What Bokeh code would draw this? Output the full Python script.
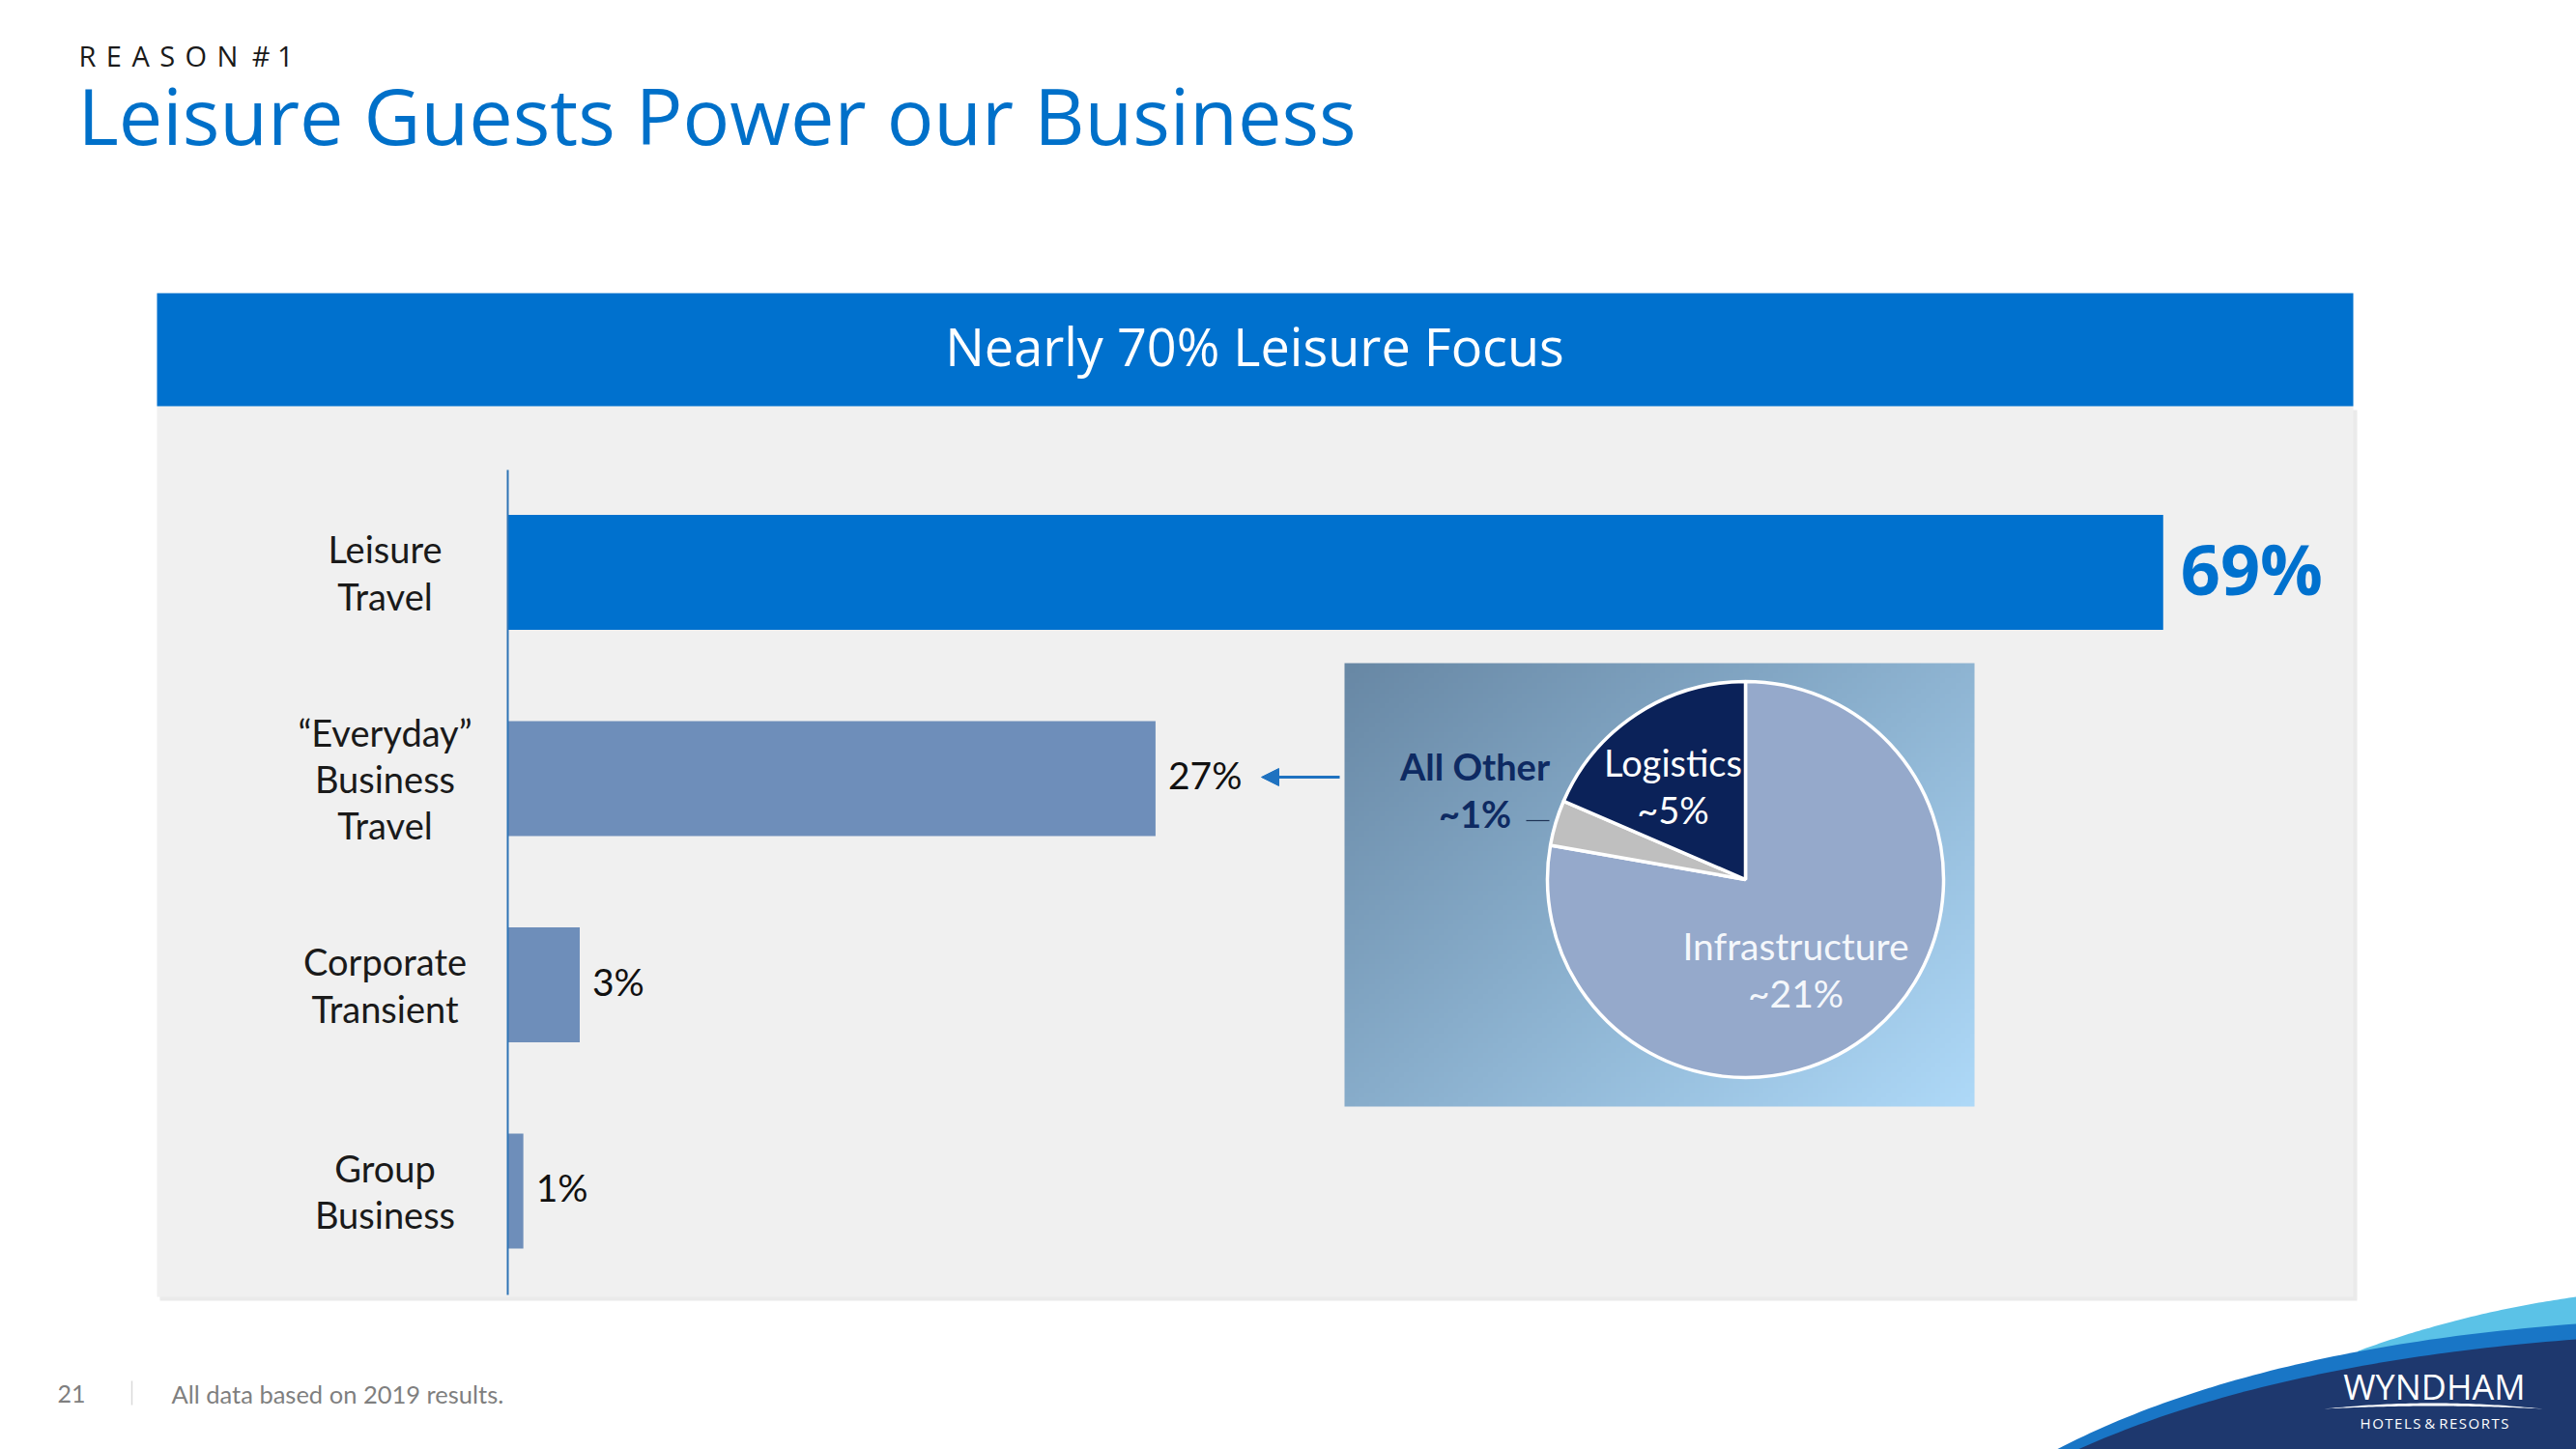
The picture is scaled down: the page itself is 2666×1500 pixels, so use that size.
import numpy as np
from bokeh.plotting import figure
from bokeh.models import Range1d, ColumnDataSource, Arrow, NormalHead
from bokeh.core.properties import value
from bokeh.embed import file_html
from bokeh.resources import INLINE

# ---------------- data ----------------
categories = ["Leisure\nTravel", "\u201cEveryday\u201d\nBusiness\nTravel",
              "Corporate\nTransient", "Group\nBusiness"]
shares = [69, 27, 3, 0.65]
share_labels = ["69%", "27%", "3%", "1%"]
bar_colors = ["#0071CE", "#6E8EBA", "#6E8EBA", "#6E8EBA"]

pie_segments = ["Infrastructure", "All Other", "Logistics"]   # clockwise from 12 o'clock
pie_values = [21, 1, 5]
pie_labels = ["~21%", "~1%", "~5%"]
pie_colors = ["#95A9CB", "#BFBFBF", "#0B2259"]

W, H = 2666, 1500

# ---------------- layout constants (pixels) ----------------
AXIS_X_PX = 525          # where value 0 sits
PX_PER_PCT = 24.83
CAT_TOP_PX = 592         # center of first category
CAT_PITCH_PX = 213.5

p = figure(width=W, height=H, x_range=Range1d(0, W), y_range=Range1d(H, 0),
           output_backend="svg", toolbar_location=None, min_border=0,
           x_axis_type=None, y_axis_type=None, outline_line_color=None,
           background_fill_color="white", border_fill_color="white")
p.grid.visible = False

p.extra_x_ranges = {"val": Range1d(-AXIS_X_PX / PX_PER_PCT, (W - AXIS_X_PX) / PX_PER_PCT)}
p.extra_y_ranges = {"cat": Range1d((H - CAT_TOP_PX) / CAT_PITCH_PX, -CAT_TOP_PX / CAT_PITCH_PX)}


def txt(x, y, s, size, color, font="Lato", style="normal", align="left",
        baseline="middle", **kw):
    p.text(x=[x], y=[y], text=[s], text_font=value(font),
           text_font_size=value(f"{size}px"), text_color=color,
           text_font_style=style, text_align=align, text_baseline=baseline, **kw)


SP = " \u200a"
# ---------------- header ----------------
txt(81, 57, SP.join(list("REASON")) + "\u2002#\u00a01", 29, "#1a1a1a",
    font="Open Sans")
txt(80, 118, "Leisure Guests Power our Business", 81, "#0070C9", font="Open Sans")

# panel with soft shadow
p.quad(left=[165], right=[2439], top=[424], bottom=[1346], fill_color="#d6d6d6",
       fill_alpha=0.5, line_color=None)
p.quad(left=[162], right=[2435], top=[420], bottom=[1342], fill_color="#F0F0F0",
       line_color=None)
p.quad(left=[162], right=[2435], top=[303], bottom=[420], fill_color="#0071CE",
       line_color=None)
txt(1298, 357, "Nearly 70% Leisure Focus", 54, "white", font="Open Sans",
    align="center")

# ---------------- bars ----------------
idx = list(range(len(categories)))
src = ColumnDataSource(dict(y=idx, v=shares, c=bar_colors, cat=categories,
                            lab=share_labels))
p.hbar(y="y", left=0, right="v", height=0.557, fill_color="c", line_color=None,
       source=src, x_range_name="val", y_range_name="cat")

# value axis line
p.segment(x0=[0], x1=[0], y0=[486], y1=[1340], line_color="#2E74B5", line_width=2,
          x_range_name="val")

# category labels
p.text(x=398, y="y", text="cat", source=src, text_font=value("Lato"),
       text_font_size=value("38px"), text_color="#1a1a1a", text_align="center",
       text_baseline="middle", text_line_height=1.05, y_range_name="cat")

# value labels
big = ColumnDataSource(dict(y=idx[:1], v=shares[:1], lab=share_labels[:1]))
small = ColumnDataSource(dict(y=idx[1:], v=shares[1:], lab=share_labels[1:]))
p.text(x="v", y="y", text="lab", source=big, x_offset=18, y_offset=-5,
       text_font=value("Open Sans"), text_font_style="bold",
       text_font_size=value("72px"), text_color="#0071CE",
       text_baseline="middle", x_range_name="val", y_range_name="cat")
p.text(x="v", y="y", text="lab", source=small, x_offset=13, y_offset=-4,
       text_font=value("Lato"), text_font_size=value("39px"), text_color="#111111",
       text_baseline="middle", x_range_name="val", y_range_name="cat")

# arrow from inset to 27%
p.add_layout(Arrow(end=NormalHead(size=18, fill_color="#1F72C0", line_color="#1F72C0"),
                   x_start=1386, y_start=804, x_end=1305, y_end=804,
                   line_color="#1F72C0", line_width=3))

# ---------------- inset with gradient ----------------
gh, gw = 90, 128
img = np.empty((gh, gw), dtype=np.uint32)
view = img.view(dtype=np.uint8).reshape((gh, gw, 4))
c0 = np.array([104, 136, 165], dtype=float)
c1 = np.array([174, 217, 248], dtype=float)
rr, cc = np.mgrid[0:gh, 0:gw]
t = 0.55 * cc / (gw - 1) + 0.45 * rr / (gh - 1)
for k in range(3):
    view[:, :, k] = (c0[k] + (c1[k] - c0[k]) * t).astype(np.uint8)
view[:, :, 3] = 255
p.image_rgba(image=[img], x=1391, y=686, dw=652, dh=459)

# pie
vals = np.array(pie_values, dtype=float)
cum = np.concatenate([[0], np.cumsum(vals)]) / vals.sum() * 2 * np.pi
start = np.pi / 2 - cum[:-1]
end = np.pi / 2 - cum[1:]
psrc = ColumnDataSource(dict(s=start, e=end, c=pie_colors, seg=pie_segments))
p.wedge(x=1806, y=910, radius=205, start_angle="s", end_angle="e", direction="clock",
        fill_color="c", line_color="white", line_width=3.5, source=psrc)

txt(1731, 813, pie_segments[2] + "\n" + pie_labels[2], 38, "white",
    align="center", text_line_height=1.08)
txt(1858, 1003, pie_segments[0] + "\n" + pie_labels[0], 39, "#F4F7FB",
    align="center", text_line_height=1.08)
txt(1526, 817, pie_segments[1] + "\n" + pie_labels[1], 38, "#0E2A62",
    style="bold", align="center", text_line_height=1.05)
p.segment(x0=[1579], x1=[1603], y0=[849], y1=[849], line_color="#1E3355", line_width=1.2)

# ---------------- footer ----------------
txt(59, 1442, "21", 25, "#7F7F7F")
p.segment(x0=[136], x1=[136], y0=[1429], y1=[1454], line_color="#D9D9D9", line_width=1.5)
txt(177, 1442, "All data based on 2019 results.", 25.5, "#7F7F7F")


# logo swoosh
def bez(p0, p1, p2, n=60):
    tt = np.linspace(0, 1, n)
    xs = (1 - tt) ** 2 * p0[0] + 2 * (1 - tt) * tt * p1[0] + tt ** 2 * p2[0]
    ys = (1 - tt) ** 2 * p0[1] + 2 * (1 - tt) * tt * p1[1] + tt ** 2 * p2[1]
    return list(xs), list(ys)


for (a, b, c), col in [(((2440, 1398), (2550, 1358), (2666, 1342)), "#5BC2E7"),
                       (((2128, 1500), (2330, 1395), (2666, 1370)), "#1976C6"),
                       (((2150, 1500), (2350, 1410), (2666, 1386)), "#1E386E")]:
    xs, ys = bez(a, b, c)
    xs += [W, a[0]]
    ys += [H, H]
    p.patch(xs, ys, fill_color=col, line_color=None)

txt(2519, 1435, "WYNDHAM", 36, "white", font="Open Sans", align="center")
xs1, ys1 = bez((2405, 1458), (2518, 1446), (2631, 1458))
xs2, ys2 = bez((2631, 1458), (2518, 1452), (2405, 1458))
p.patch(xs1 + xs2, ys1 + ys2, fill_color="white", line_color=None)
txt(2519, 1472, "H\u200aO\u200aT\u200aE\u200aL\u200aS & R\u200aE\u200aS\u200aO\u200aR\u200aT\u200aS",
    15, "white", font="Open Sans", align="center")

open("out.html", "w").write(file_html(p, INLINE))
